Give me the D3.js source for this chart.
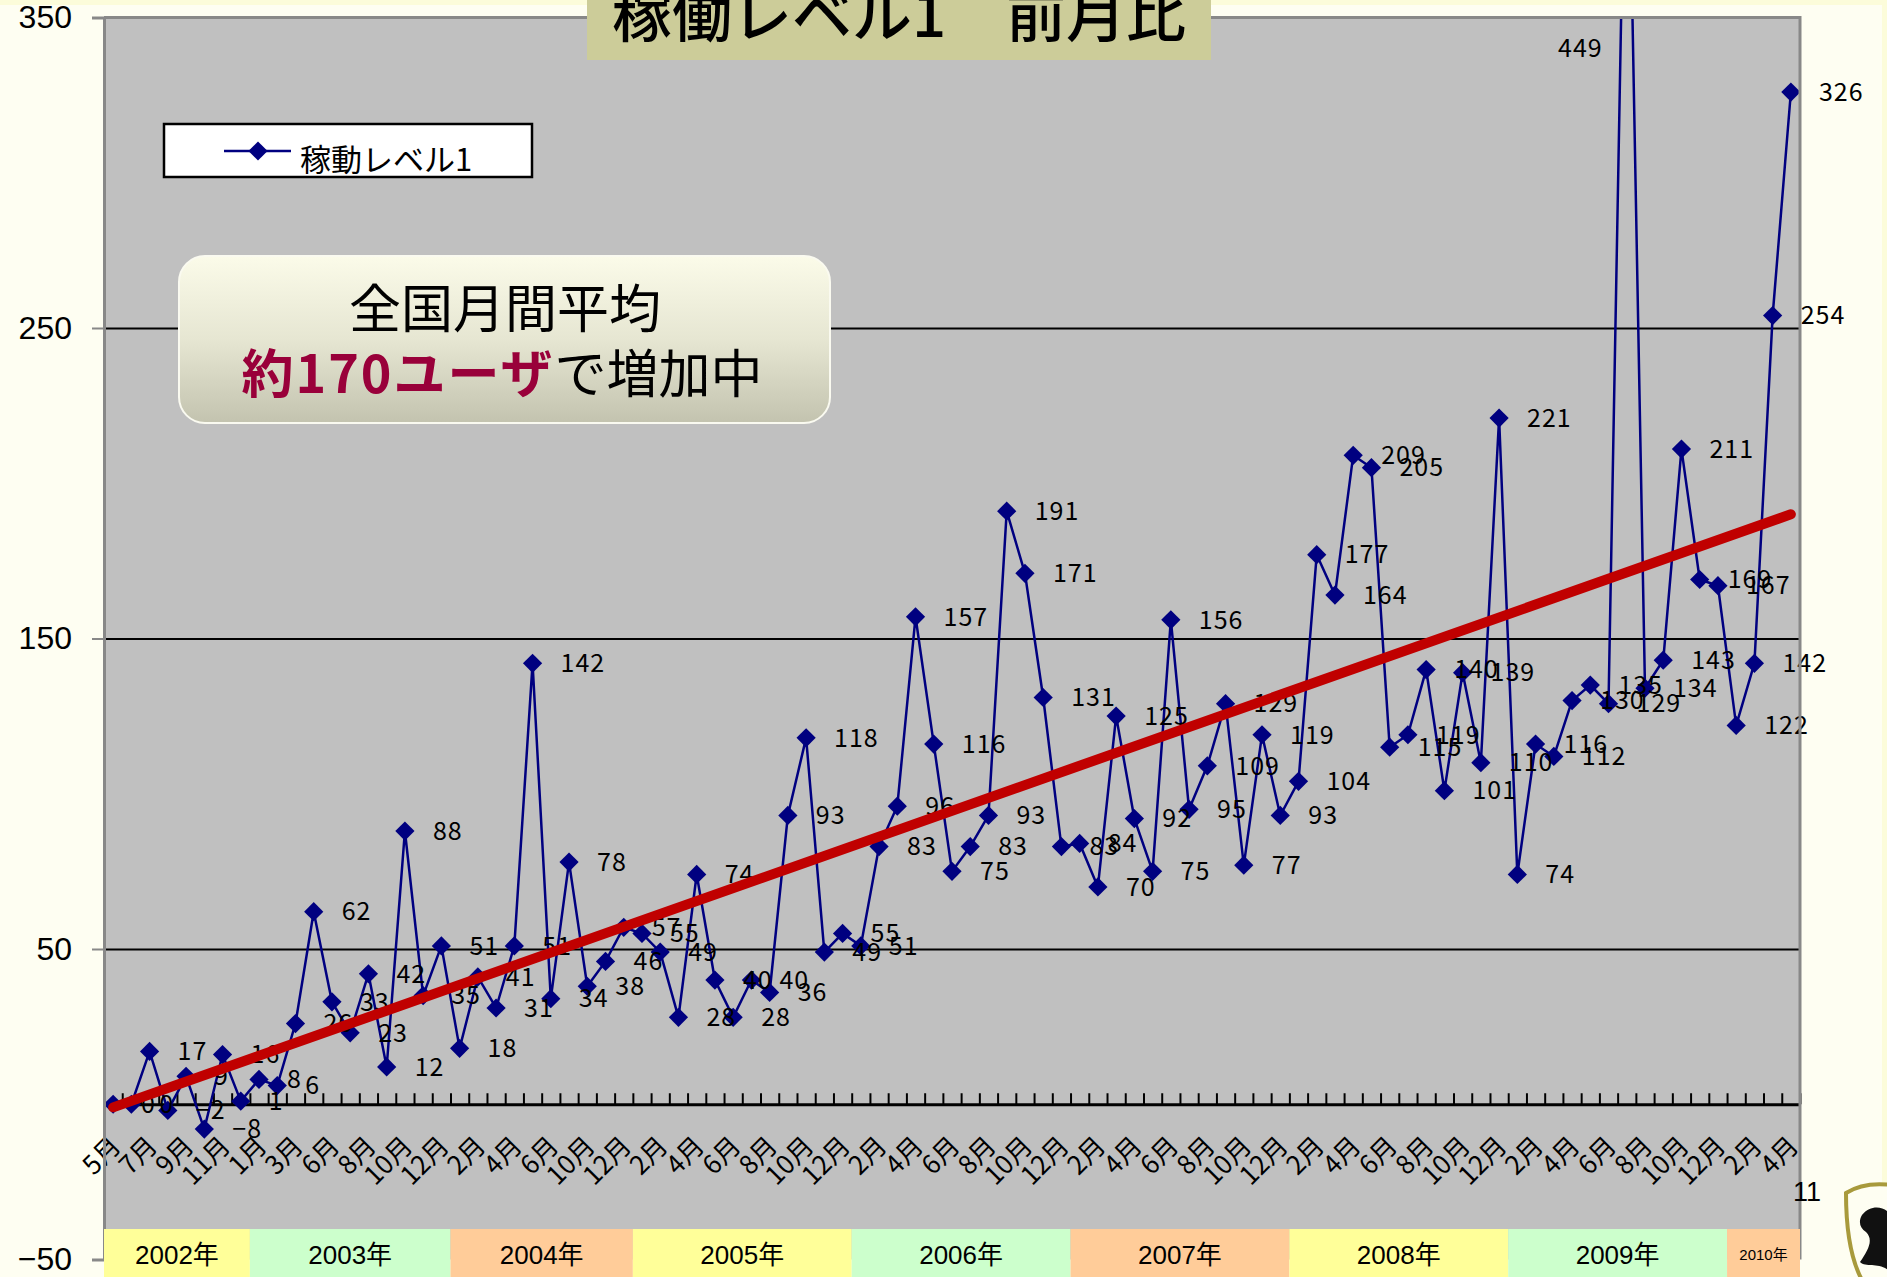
<!DOCTYPE html>
<html><head><meta charset="utf-8">
<script src="https://cdn.jsdelivr.net/npm/d3@7"></script>
<style>
html,body{margin:0;padding:0;background:#FEFEF2;}
svg{display:block;}
</style></head><body>
<svg id="chart" width="1887" height="1277"></svg>
<script>
// ---------------- data ----------------
const chartTitle = "稼働レベル1　前月比";
const seriesName = "稼動レベル1";
const yearLabels = ["2002年","2003年","2004年","2005年","2006年","2007年","2008年","2009年","2010年"];
const yearMonths = [
  [5,6,7,8,9,10,11,12],
  [1,2,3,4,6,7,8,9,10,11,12],
  [1,2,3,4,5,6,7,10,11,12],
  [1,2,3,4,5,6,7,8,9,10,11,12],
  [1,2,3,4,5,6,7,8,9,10,11,12],
  [1,2,3,4,5,6,7,8,9,10,11,12],
  [1,2,3,4,5,6,7,8,9,10,11,12],
  [1,2,3,4,5,6,7,8,9,10,11,12],
  [1,2,3,4]
];
const values = [
  0,0,17,-2,9,-8,16,1,
  8,6,26,62,33,23,42,12,88,35,51,
  18,41,31,51,142,34,78,38,46,57,
  55,49,28,74,40,28,40,36,93,118,49,55,
  51,83,96,157,116,75,83,93,191,171,131,83,
  84,70,125,92,75,156,95,109,129,77,119,93,
  104,177,164,209,205,115,119,140,101,139,110,221,
  74,116,112,130,135,129,449,134,143,211,169,167,
  122,142,254,326
];
const trendEnds = [-1, 190];
const yTickValues = [-50, 50, 150, 250, 350];
const gridValues = [50, 150, 250];
const calloutLine1 = "全国月間平均";
const calloutHighlight = "約170ユーザ";
const calloutRest = "で増加中";
const yearPalette = ["#FFFF99","#CCFFCC","#FFCC99"];

// ---------------- build categories ----------------
const cats = [];
yearMonths.forEach((ms, yi) => ms.forEach(m => cats.push({key: yi + "-" + m, yi, label: m + "月"})));
const points = cats.map((c, i) => ({...c, i, v: values[i]}));

// ---------------- layout ----------------
const W = 1887, H = 1277;
const L = 104, R = 1800, T = 17.5, B = 1259.5;
const svg = d3.select("#chart");
const x = d3.scaleBand().domain(cats.map(c => c.key)).range([L, R]).padding(0);
const xc = k => x(k) + x.bandwidth() / 2;
const xb = d3.scaleLinear().domain([0, cats.length]).range([L, R]);
const y = d3.scaleLinear().domain([-50, 350]).range([B, T]);
const numFmt = d3.format("d");
const CJK = "'Noto Sans CJK JP', 'Noto Sans', sans-serif";
const NARROW = "'Liberation Sans Narrow', 'Liberation Sans', 'Noto Sans CJK JP', sans-serif";

svg.append("rect").attr("width", W).attr("height", H).attr("fill", "#FEFEF2");
svg.append("rect").attr("width", W).attr("height", 5).attr("fill", "#FCFCDA");
svg.append("rect").attr("x", W - 5).attr("width", 5).attr("height", H).attr("fill", "#FCFCDA");

// plot area
svg.append("rect").attr("x", L).attr("y", T).attr("width", R - L).attr("height", B - T).attr("fill", "#C0C0C0");

// gridlines
const grid = svg.append("g").attr("transform", `translate(${L},0)`)
  .call(d3.axisLeft(y).tickValues(gridValues).tickSize(-(R - L)).tickFormat(""));
grid.select(".domain").remove();
grid.selectAll("line").attr("stroke", "#000").attr("stroke-width", 2);

// category axis at 0
const xAxis = svg.append("g").attr("transform", `translate(0,${y(0)})`)
  .call(d3.axisTop(xb).tickValues(d3.range(0, cats.length + 1)).tickSize(11).tickFormat("").tickSizeOuter(0));
xAxis.select(".domain").attr("stroke", "#000").attr("stroke-width", 3);
xAxis.selectAll(".tick line").attr("stroke", "#000").attr("stroke-width", 2);

// category labels
const xl = svg.append("g").attr("transform", `translate(0,1144)`)
  .call(d3.axisBottom(x).tickValues(cats.filter((c, i) => i % 2 === 0).map(c => c.key))
    .tickFormat(k => cats.find(c => c.key === k).label).tickSize(0));
xl.select(".domain").remove();
xl.selectAll("text").attr("font-family", CJK).attr("font-size", 26).attr("fill", "#000")
  .attr("text-anchor", "end").attr("dy", "0.35em").attr("y", 0).attr("x", 4)
  .attr("transform", "rotate(-45)");

// clip
svg.append("clipPath").attr("id", "plotclip").append("rect")
  .attr("x", L).attr("y", T).attr("width", R - L).attr("height", B - T);

// series line
const lineGen = d3.line().x(d => xc(d.key)).y(d => y(d.v));
svg.append("path").datum(points).attr("clip-path", "url(#plotclip)")
  .attr("d", lineGen).attr("fill", "none").attr("stroke", "#000080").attr("stroke-width", 2.5);

// markers
const diamond = d3.symbol().type(d3.symbolSquare).size(185);
svg.append("g").attr("clip-path", "url(#plotclip)").selectAll("path").data(points).join("path")
  .attr("d", diamond).attr("fill", "#000080")
  .attr("transform", d => `translate(${xc(d.key)},${y(d.v)}) rotate(45)`);

// data labels
const yMax = y.domain()[1];
svg.append("g").selectAll("text").data(points).join("text")
  .attr("x", d => d.v > yMax ? xc(d.key) - 24 : xc(d.key) + 28)
  .attr("y", d => d.v > yMax ? y(yMax) + 31 : y(d.v))
  .attr("dy", "0.35em")
  .attr("text-anchor", d => d.v > yMax ? "end" : "start")
  .attr("font-family", CJK).attr("font-size", 25).attr("letter-spacing", 1)
  .attr("fill", "#000").text(d => numFmt(d.v));

// trend line
const trendData = [{key: cats[0].key, v: trendEnds[0]}, {key: cats[cats.length - 1].key, v: trendEnds[1]}];
svg.append("path").datum(trendData).attr("d", lineGen).attr("fill", "none")
  .attr("stroke", "#C00000").attr("stroke-width", 10).attr("stroke-linecap", "round");

// plot border (top, right)
svg.append("path").attr("d", `M${L},${T}H${R}V${B}`).attr("fill", "none").attr("stroke", "#888").attr("stroke-width", 3);

// y axis
const yAx = svg.append("g").attr("transform", `translate(${L},0)`)
  .call(d3.axisLeft(y).tickValues(yTickValues).tickSize(12).tickPadding(20).tickFormat(numFmt));
yAx.select(".domain").attr("stroke", "#888").attr("stroke-width", 3);
yAx.selectAll(".tick line").attr("stroke", "#888").attr("stroke-width", 2);
yAx.selectAll("text").attr("font-family", NARROW).attr("font-size", 32).attr("fill", "#000");

// year bands
const yearSpans = yearLabels.map((lab, yi) => {
  const ks = cats.filter(c => c.yi === yi);
  return {lab, yi, x0: x(ks[0].key), x1: x(ks[ks.length - 1].key) + x.bandwidth(), n: ks.length};
});
const yb = svg.append("g");
yb.selectAll("rect").data(yearSpans).join("rect")
  .attr("x", d => d.x0).attr("y", 1229).attr("width", d => d.x1 - d.x0).attr("height", H - 1229)
  .attr("fill", d => yearPalette[d.yi % 3]);
yb.selectAll("text").data(yearSpans).join("text")
  .attr("x", d => (d.x0 + d.x1) / 2).attr("y", 1255)
  .attr("dy", "0.35em").attr("text-anchor", "middle")
  .attr("font-family", NARROW).attr("font-size", d => d.n < 6 ? 15 : 26).attr("fill", "#000")
  .text(d => d.lab);

// title
svg.append("rect").attr("x", 587).attr("y", -10).attr("width", 624).attr("height", 70).attr("fill", "#CCCC99");
svg.append("text").attr("x", 899).attr("y", 37).attr("text-anchor", "middle")
  .attr("font-family", CJK).attr("font-size", 60).attr("font-weight", 500).attr("fill", "#000").text(chartTitle);

// legend
const lg = svg.append("g");
lg.append("rect").attr("x", 164).attr("y", 124).attr("width", 368).attr("height", 53)
  .attr("fill", "#fff").attr("stroke", "#000").attr("stroke-width", 2.5);
lg.append("line").attr("x1", 224).attr("x2", 291).attr("y1", 151).attr("y2", 151)
  .attr("stroke", "#000080").attr("stroke-width", 2.5);
lg.append("path").attr("d", diamond).attr("fill", "#000080").attr("transform", "translate(258,151) rotate(45)");
lg.append("text").attr("x", 300).attr("y", 171).attr("font-family", CJK).attr("font-size", 31)
  .attr("fill", "#000").text(seriesName);

// callout
const defs = svg.append("defs");
const gr = defs.append("linearGradient").attr("id", "cg").attr("x1", 0).attr("x2", 0).attr("y1", 0).attr("y2", 1);
gr.append("stop").attr("offset", "0").attr("stop-color", "#FBFBE9");
gr.append("stop").attr("offset", "0.5").attr("stop-color", "#E6E6D2");
gr.append("stop").attr("offset", "1").attr("stop-color", "#C3C3AF");
svg.append("rect").attr("x", 179).attr("y", 256).attr("width", 651).attr("height", 167).attr("rx", 26)
  .attr("fill", "url(#cg)").attr("stroke", "#FAFAF0").attr("stroke-width", 2);
svg.append("text").attr("x", 505).attr("y", 328).attr("text-anchor", "middle")
  .attr("font-family", CJK).attr("font-size", 52).attr("fill", "#000").text(calloutLine1);
const t2 = svg.append("text").attr("x", 502).attr("y", 393).attr("text-anchor", "middle")
  .attr("font-family", CJK).attr("font-size", 52);
t2.append("tspan").attr("fill", "#99003A").attr("font-weight", 600).attr("letter-spacing", 2).text(calloutHighlight);
t2.append("tspan").attr("fill", "#000").text(calloutRest);

// stray label and logo
svg.append("text").attr("x", 1793).attr("y", 1201).attr("font-family", NARROW).attr("font-size", 27).attr("fill", "#000").text("11");
const logo = svg.append("g");
logo.append("path").attr("d", "M1846,1193 C1860,1184 1876,1183 1892,1185 L1892,1280 L1862,1280 C1850,1258 1846,1228 1846,1193 Z")
  .attr("fill", "#FEFEF2").attr("stroke", "#A89A3C").attr("stroke-width", 4);
logo.append("path").attr("d", "M1862,1215 C1870,1205 1882,1206 1888,1212 L1888,1270 C1878,1262 1866,1268 1860,1262 C1868,1250 1874,1240 1866,1232 C1860,1228 1858,1222 1862,1215 Z")
  .attr("fill", "#111");
</script>
</body></html>
